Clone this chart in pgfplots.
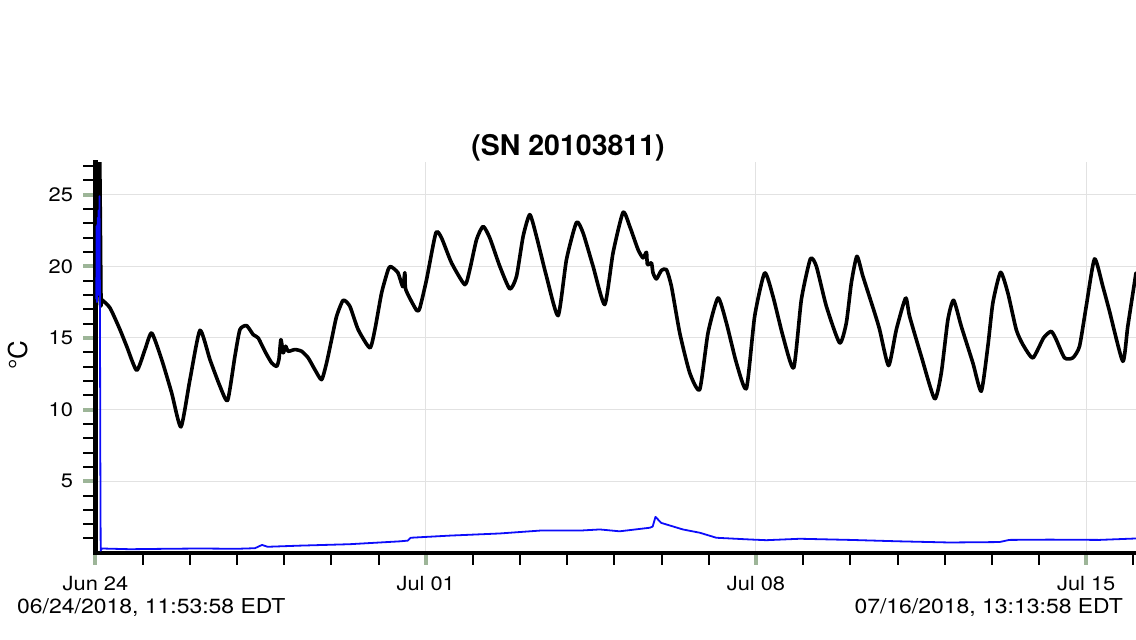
\documentclass[border=0pt]{standalone}
\usepackage{fontspec}
\setmainfont{TeX Gyre Heros}
\newfontfamily\widefont{TeX Gyre Heros}[FakeStretch=1.12]
\usepackage{pgfplots}
\pgfplotsset{compat=1.18}
\definecolor{tickgreen}{RGB}{157,181,152}
\definecolor{gridgray}{RGB}{226,226,226}
\definecolor{seriesblue}{RGB}{12,12,250}

\pgfplotstableread{
d v
0.000 17.3
0.021 17.33
0.053 19.77
0.085 28.5
0.117 17.68
0.131 17.68
0.307 17.10
0.519 15.58
0.661 14.42
0.873 12.74
1.049 14.19
1.191 15.35
1.403 13.49
1.614 11.17
1.811 8.79
2.002 12.09
2.214 15.53
2.426 13.49
2.638 11.63
2.801 10.65
2.955 13.72
3.061 15.58
3.203 15.86
3.343 15.23
3.449 15.00
3.591 14.07
3.733 13.26
3.839 13.02
3.888 13.49
3.930 14.88
3.979 13.96
4.030 14.42
4.085 14.07
4.227 14.19
4.369 14.07
4.508 13.61
4.650 12.79
4.792 12.09
4.898 13.26
5.004 14.88
5.110 16.51
5.250 17.63
5.392 17.21
5.568 15.58
5.816 14.31
5.922 15.58
6.064 18.14
6.203 19.77
6.261 19.98
6.409 19.56
6.515 18.58
6.557 19.56
6.578 18.37
6.805 16.93
6.875 17.10
7.017 19.07
7.214 22.33
7.335 21.98
7.547 20.24
7.828 18.72
7.934 19.77
8.076 21.86
8.216 22.79
8.358 21.98
8.570 20.00
8.782 18.42
8.924 19.30
9.064 22.09
9.206 23.61
9.347 22.09
9.559 19.30
9.805 16.56
9.983 20.47
10.195 23.07
10.335 22.33
10.547 20.00
10.794 17.33
10.970 20.94
11.182 23.77
11.324 22.79
11.500 21.17
11.606 20.59
11.678 20.98
11.699 20.12
11.784 20.24
11.818 19.54
11.890 19.12
11.996 19.72
12.102 19.77
12.208 18.60
12.384 15.35
12.596 12.56
12.807 11.40
12.983 15.35
13.195 17.79
13.373 16.05
13.585 13.26
13.797 11.47
13.972 16.51
14.184 19.54
14.360 17.91
14.572 15.12
14.799 12.91
14.962 17.68
15.153 20.52
15.280 20.00
15.492 17.21
15.773 14.65
15.915 16.05
16.021 18.84
16.140 20.70
16.267 19.30
16.515 16.75
16.621 15.58
16.811 13.07
16.975 15.58
17.172 17.79
17.256 16.51
17.504 13.72
17.786 10.75
17.928 12.56
18.068 16.28
18.189 17.63
18.352 15.81
18.597 13.26
18.775 11.28
18.915 14.42
19.021 17.45
19.184 19.58
19.339 18.14
19.517 15.58
19.657 14.54
19.869 13.61
20.095 15.00
20.258 15.46
20.364 14.88
20.540 13.61
20.716 13.61
20.858 14.42
21.000 17.21
21.176 20.52
21.352 18.60
21.494 16.86
21.775 13.37
21.881 15.81
22.055 19.54
}\tempdata

\pgfplotstableread{
d v
0.017 17.7
0.024 22.8
0.030 17.5
0.036 22.9
0.042 18.4
0.050 23.4
0.058 18.0
0.064 23.9
0.072 18.5
0.085 24.9
0.094 17.6
0.102 7.0
0.110 0.15
0.138 0.30
0.73 0.25
1.50 0.28
2.21 0.30
3.00 0.28
3.38 0.32
3.53 0.55
3.65 0.42
4.33 0.50
5.39 0.60
6.45 0.80
6.62 0.85
6.68 1.05
7.51 1.20
8.57 1.35
9.42 1.55
10.26 1.55
10.69 1.63
11.11 1.50
11.75 1.75
11.81 1.83
11.87 2.51
11.99 2.09
12.45 1.63
12.81 1.40
13.16 1.05
13.87 0.93
14.22 0.88
14.93 0.98
15.99 0.90
17.04 0.80
18.10 0.72
19.16 0.75
19.37 0.90
20.22 0.92
21.28 0.90
22.055 1.00
}\blueData

\begin{document}
\begin{tikzpicture}[x=1pt,y=1pt]
\useasboundingbox (0,0) rectangle (1136,640);
\begin{axis}[
  at={(95.5pt,87.2pt)}, anchor=south west,
  scale only axis, width=1040.5pt, height=390.3pt,
  xmin=0, xmax=22.055, ymin=0, ymax=27.25,
  axis x line*=bottom, axis y line*=left,
  axis line style={line width=4.5pt, black, -, line cap=rect},
  xtick={0,7,14,21},
  xticklabels={Jun 24,Jul 01,Jul 08,Jul 15},
  minor xtick={1,2,3,4,5,6,8,9,10,11,12,13,15,16,17,18,19,20,22},
  ytick={5,10,15,20,25},
  minor ytick={1,2,3,4,6,7,8,9,11,12,13,14,16,17,18,19,21,22,23,24,26,27},
  grid=major,
  major grid style={gridgray, line width=1pt},
  tick align=outside,
  major tick length=12pt, minor tick length=12pt,
  major tick style={tickgreen, line width=4pt},
  minor tick style={black, line width=2pt},
  tick label style={font=\widefont\fontsize{19.5}{22}\selectfont, text=black},
  xticklabel style={yshift=-8pt},
  yticklabel style={xshift=-7pt},
  /pgf/number format/assume math mode=true,
  clip=true,
]
\addplot[black, line width=3.6pt, line join=round, line cap=round, smooth, tension=0.35] table[x=d, y=v] {\tempdata};
\addplot[seriesblue, line width=1.8pt, line join=round] table[x=d, y=v] {\blueData};
\end{axis}
\node[font=\bfseries\fontsize{28.5}{32}\selectfont] at (568,492) {(SN 20103811)};
\node[rotate=90, font=\fontsize{26}{30}\selectfont] at (18,285) {°C};
\node[anchor=base west, font=\widefont\fontsize{20.5}{24}\selectfont, inner sep=0pt] at (17,26) {06/24/2018, 11:53:58 EDT};
\node[anchor=base east, font=\widefont\fontsize{20.5}{24}\selectfont, inner sep=0pt] at (1123,26) {07/16/2018, 13:13:58 EDT};
\end{tikzpicture}
\end{document}
